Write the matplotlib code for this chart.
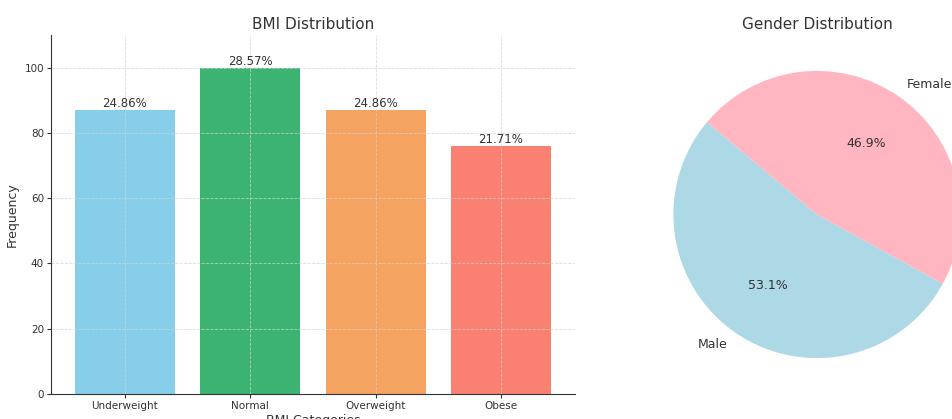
import matplotlib.pyplot as plt

bmi_categories = ['Underweight', 'Normal', 'Overweight', 'Obese']
bmi_counts = [87, 100, 87, 76]
bmi_colors = ['skyblue', 'mediumseagreen', 'sandybrown', 'salmon']

genders = ['Male', 'Female']
gender_share = [53.1, 46.9]
gender_colors = ['lightblue', 'lightpink']

txt = '#333333'
plt.rcParams['text.color'] = txt
plt.rcParams['axes.labelcolor'] = txt
plt.rcParams['xtick.color'] = txt
plt.rcParams['ytick.color'] = txt
plt.rcParams['axes.edgecolor'] = txt

fig = plt.figure(figsize=(9.53, 4.19), dpi=100)

# bar chart
ax1 = fig.add_axes([51 / 953, 25 / 419, 524 / 953, 359 / 419])
bars = ax1.bar(bmi_categories, bmi_counts, color=bmi_colors)
total = sum(bmi_counts)
for b, c in zip(bars, bmi_counts):
    ax1.text(b.get_x() + b.get_width() / 2, c, f'{c / total * 100:.2f}%',
             ha='center', va='bottom', fontsize=8.5)
ax1.set_ylim(0, 110)
ax1.set_title('BMI Distribution', fontsize=11, pad=4)
ax1.set_xlabel('BMI Categories', fontsize=9, labelpad=2)
ax1.set_ylabel('Frequency', fontsize=9)
ax1.tick_params(labelsize=7.5, length=3, pad=2)
ax1.grid(True, linestyle='--', color='lightgray', linewidth=0.6, alpha=0.8)
ax1.spines['top'].set_visible(False)
ax1.spines['right'].set_visible(False)

# pie chart
ax2 = fig.add_axes([(817 - 179.5) / 953, 25 / 419, 359 / 953, 359 / 419])
ax2.pie(gender_share, labels=genders, colors=gender_colors, autopct='%1.1f%%',
        startangle=140, textprops={'fontsize': 9, 'color': txt})
ax2.set_xlim(-1.25, 1.25)
ax2.set_ylim(-1.25, 1.25)
ax2.set_aspect('equal')
ax2.set_title('Gender Distribution', fontsize=11, pad=4)

fig.savefig('out.png', dpi=100)
